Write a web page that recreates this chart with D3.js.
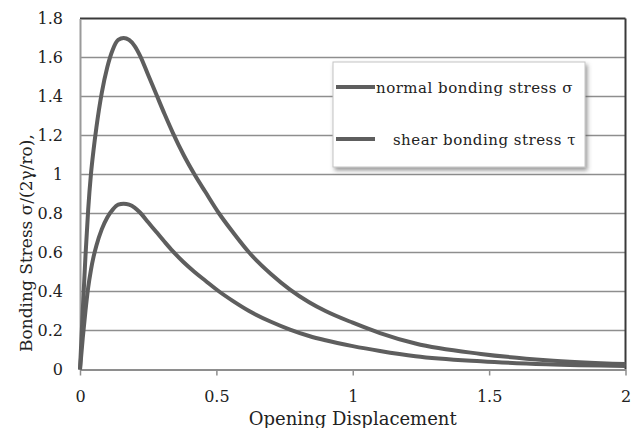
<!DOCTYPE html>
<html>
<head>
<meta charset="utf-8">
<script src="https://cdn.jsdelivr.net/npm/d3@7"></script>
<style>
  body { margin: 0; background: #fff; }
  svg { display: block; font-family: "DejaVu Serif", "Liberation Serif", serif; }
</style>
</head>
<body>
<div class="chart"></div>
<script>
// data
const normalX = [0, 0.01, 0.02, 0.03, 0.04, 0.05, 0.06, 0.08, 0.1, 0.12, 0.14, 0.16, 0.18, 0.2, 0.22, 0.25, 0.28, 0.31, 0.34, 0.38, 0.42, 0.46, 0.51, 0.56, 0.62, 0.7, 0.77, 0.84, 0.9, 1.0, 1.1, 1.23, 1.47, 1.71, 2.0];
const normalY = [0, 0.3, 0.58, 0.82, 1.0, 1.13, 1.24, 1.42, 1.55, 1.64, 1.69, 1.7, 1.69, 1.66, 1.61, 1.51, 1.41, 1.31, 1.215, 1.1, 1.0, 0.91, 0.8, 0.705, 0.6, 0.49, 0.41, 0.345, 0.3, 0.24, 0.187, 0.133, 0.08, 0.048, 0.028];
const shearX = [0, 0.01, 0.02, 0.03, 0.04, 0.05, 0.06, 0.08, 0.1, 0.12, 0.14, 0.16, 0.18, 0.2, 0.22, 0.25, 0.28, 0.31, 0.34, 0.38, 0.42, 0.46, 0.51, 0.56, 0.62, 0.7, 0.77, 0.84, 0.9, 1.0, 1.1, 1.23, 1.47, 1.71, 2.0];
const shearY = [0, 0.16, 0.3, 0.42, 0.51, 0.58, 0.635, 0.72, 0.78, 0.82, 0.845, 0.85, 0.845, 0.83, 0.805, 0.755, 0.705, 0.655, 0.607, 0.55, 0.5, 0.455, 0.4, 0.352, 0.3, 0.245, 0.205, 0.172, 0.15, 0.12, 0.095, 0.068, 0.042, 0.027, 0.018];
const xTicks = [0, 0.5, 1, 1.5, 2];
const yTicks = [0, 0.2, 0.4, 0.6, 0.8, 1, 1.2, 1.4, 1.6, 1.8];
const legendLabels = ['normal bonding stress \u03c3', 'shear bonding stress \u03c4'];

const toPoints = (xs, ys) => xs.map((x, i) => ({ x: x, y: ys[i] }));

const defineChart = () => {
    const margin = { top: 18.5, right: 7.5, bottom: 58.5, left: 80 };
    const width = 633;
    const height = 428;
    const widthChart = width - margin.left - margin.right;
    const heightChart = height - margin.top - margin.bottom;

    const xScale = d3.scaleLinear().domain([0, 2]).range([0, widthChart]);
    const yScale = d3.scaleLinear().domain([0, 1.8]).range([heightChart, 0]);

    const root = d3.select('.chart')
        .append('svg')
        .attr('width', width)
        .attr('height', height);

    const defs = root.append('defs');
    defs.append('filter')
        .attr('id', 'shadow')
        .attr('x', '-10%').attr('y', '-10%')
        .attr('width', '130%').attr('height', '140%')
        .append('feDropShadow')
        .attr('dx', 2).attr('dy', 3)
        .attr('stdDeviation', 2)
        .attr('flood-color', '#555')
        .attr('flood-opacity', 0.6);

    const svg = root.append('g')
        .attr('transform', `translate(${margin.left}, ${margin.top})`);

    // grid
    svg.append('g')
        .attr('class', 'grid')
        .selectAll('line')
        .data(yTicks.slice(1, -1))
        .enter()
        .append('line')
        .attr('x1', 0)
        .attr('x2', widthChart)
        .attr('y1', d => yScale(d))
        .attr('y2', d => yScale(d))
        .style('stroke', '#8e8e8e')
        .style('stroke-width', 1.5);

    // frame: top and right dark
    svg.append('line')
        .attr('x1', 0).attr('x2', widthChart)
        .attr('y1', yScale(1.8)).attr('y2', yScale(1.8))
        .style('stroke', '#3a3a3a').style('stroke-width', 2);
    svg.append('line')
        .attr('x1', xScale(2)).attr('x2', xScale(2))
        .attr('y1', 0).attr('y2', heightChart)
        .style('stroke', '#3a3a3a').style('stroke-width', 2);

    // axes
    const xAxis = d3.axisBottom(xScale)
        .tickValues(xTicks)
        .tickFormat(d => String(d))
        .tickSizeInner(6)
        .tickSizeOuter(0)
        .tickPadding(15);
    const yAxis = d3.axisLeft(yScale)
        .tickValues(yTicks)
        .tickFormat(d => String(d))
        .tickSize(0)
        .tickPadding(17);

    const xAxisDraw = svg.append('g')
        .attr('class', 'x-axis')
        .attr('transform', `translate(0,${heightChart})`)
        .call(xAxis);
    xAxisDraw.select('.domain').style('stroke', '#8e8e8e').style('stroke-width', 2);
    xAxisDraw.selectAll('.tick line').style('stroke', '#8e8e8e').style('stroke-width', 1.5);
    xAxisDraw.selectAll('text')
        .style('font-size', '16px')
        .style('font-family', '"DejaVu Serif", serif')
        .style('fill', '#222');

    const yAxisDraw = svg.append('g')
        .attr('class', 'y-axis')
        .call(yAxis);
    yAxisDraw.select('.domain').style('stroke', '#9a9a9a').style('stroke-width', 2);
    yAxisDraw.selectAll('text')
        .style('font-size', '16px')
        .style('font-family', '"DejaVu Serif", serif')
        .style('fill', '#222');

    // curves
    const line = d3.line()
        .x(d => xScale(d.x))
        .y(d => yScale(d.y))
        .curve(d3.curveMonotoneX);

    const series = [toPoints(normalX, normalY), toPoints(shearX, shearY)];
    svg.append('g')
        .attr('class', 'curves')
        .selectAll('path')
        .data(series)
        .enter()
        .append('path')
        .attr('d', line)
        .style('fill', 'none')
        .style('stroke', '#5e5e5e')
        .style('stroke-width', 4)
        .style('stroke-linejoin', 'round');

    // axis titles
    root.append('text')
        .attr('x', margin.left + widthChart / 2)
        .attr('y', 425)
        .attr('text-anchor', 'middle')
        .style('font-size', '18px')
        .style('fill', '#222')
        .text('Opening Displacement');

    root.append('text')
        .attr('transform', 'translate(32, 352) rotate(-90)')
        .attr('text-anchor', 'start')
        .style('font-size', '17px')
        .style('fill', '#222')
        .text('Bonding Stress  \u03c3/(2\u03b3/ro),');

    // legend
    const legend = root.append('g')
        .attr('class', 'legend')
        .attr('transform', 'translate(333, 62)');
    legend.append('rect')
        .attr('width', 252)
        .attr('height', 105)
        .style('fill', '#fff')
        .style('stroke', '#c4c4c4')
        .style('stroke-width', 1)
        .attr('filter', 'url(#shadow)');

    const items = legend.selectAll('.item')
        .data(legendLabels)
        .enter()
        .append('g')
        .attr('class', 'item')
        .attr('transform', (d, i) => `translate(0, ${25 + i * 52})`);
    items.append('line')
        .attr('x1', 3).attr('x2', 42)
        .attr('y1', 0).attr('y2', 0)
        .style('stroke', '#5e5e5e')
        .style('stroke-width', 4);
    items.append('text')
        .attr('x', (d, i) => i === 0 ? 43 : 243)
        .attr('y', 6)
        .attr('text-anchor', (d, i) => i === 0 ? 'start' : 'end')
        .style('font-size', '15px')
        .style('letter-spacing', '0.5px')
        .style('fill', '#222')
        .text(d => d);
}

defineChart();
</script>
</body>
</html>
